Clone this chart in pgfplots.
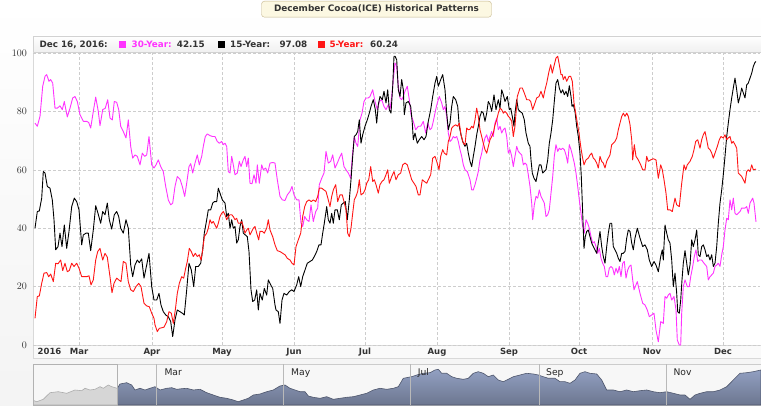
\documentclass[border=0pt]{standalone}
\usepackage{pgfplots}
\pgfplotsset{compat=1.18}
\usepackage{fontspec}
\setmainfont{DejaVu Sans}
\definecolor{mag}{RGB}{255,51,255}
\definecolor{redl}{RGB}{255,22,22}
\definecolor{txt}{RGB}{51,51,51}
\definecolor{gridc}{RGB}{205,205,205}
\definecolor{navtop}{RGB}{146,160,194}
\definecolor{navbot}{RGB}{108,118,143}
\definecolor{navline}{RGB}{78,86,108}
\definecolor{titlefill}{RGB}{252,248,226}
\definecolor{titledraw}{RGB}{196,181,139}

\begin{document}
\begin{tikzpicture}[x=1pt,y=1pt]
\path[use as bounding box] (0,0) rectangle (761,405);
% page background
\shade[top color=white, bottom color=gray!9] (0,0) rectangle (761,405);
% title
\node[draw=titledraw, fill=titlefill, rounded corners=3pt, minimum width=230pt, minimum height=16pt,
      inner sep=0pt, text=txt, font=\bfseries\fontsize{8.9}{10}\selectfont] at (376.5,395.8)
      {December Cocoa(ICE) Historical Patterns};
% plot box and header band
\fill[white] (33,60) rectangle (761,353);
\shade[top color=white, bottom color=gray!12, draw=gray!35] (33,353) rectangle (761,369);
\draw[gray!30] (33,60) -- (33,353);
% x label band
\fill[gray!4, draw=gray!30] (33,47) rectangle (761,60);
% navigator box
\fill[gray!6, draw=gray!40] (33,0) rectangle (761,41);

% header texts
\begin{scope}[every node/.style={anchor=base west, inner sep=0pt, font=\bfseries\fontsize{8.8}{10}\selectfont}]
\node[text=txt] at (39.3,357.4) {Dec 16, 2016:};
\fill[mag] (119.3,357.4) rectangle ++(6.3,6.3);
\node[text=mag] at (131.5,357.4) {30-Year:};
\node[text=txt] at (176.7,357.4) {42.15};
\fill[black] (218.3,357.4) rectangle ++(6.3,6.3);
\node[text=txt] at (230,357.4) {15-Year:};
\node[text=txt] at (279.3,357.4) {97.08};
\fill[redl] (318.3,357.4) rectangle ++(6.3,6.3);
\node[text=redl] at (329.3,357.4) {5-Year:};
\node[text=txt] at (370,357.4) {60.24};
\end{scope}

\begin{axis}[at={(33pt,60pt)}, anchor=south west, scale only axis,
  width=727pt, height=292pt,
  xmin=33, xmax=760, ymin=0, ymax=100,
  axis line style={draw=none}, major tick length=0pt,
  xtick={79,152,222,294,365,437,509,579,652,723},
  xticklabels={Mar,Apr,May,Jun,Jul,Aug,Sep,Oct,Nov,Dec},
  extra x ticks={49.5}, extra x tick labels={2016},
  extra x tick style={grid=none},
  ytick={0,20,40,60,80,100},
  grid=major,
  major grid style={gridc, dash pattern=on 3pt off 2pt, line width=0.6pt},
  xticklabel style={anchor=base, inner sep=0pt, yshift=-9.7pt, text=txt,
                    font=\bfseries\fontsize{8.5}{10}\selectfont},
  yticklabel style={anchor=east, inner sep=0pt, xshift=-6pt, text=txt,
                    font=\fontsize{10}{11}\selectfont},
  every axis plot/.append style={line width=0.9pt, line join=round, mark=none},
]
% 30-Year
\addplot[mag] coordinates {
(35,76.0)(37.3,74.9)(40,78.3)(42.7,88.6)(45,92.0)(46.7,92.6)(49,90.3)(50.7,90.9)(52.7,89.7)(55,81.1)
(57.3,81.1)(60,81.9)(62.3,80.6)(64.3,83.4)(67.3,78.1)(70,81.1)(72.7,84.6)(75,85.1)(77.3,83.4)(80,78.9)
(83.3,76.6)(86.7,76.6)(88.7,76.2)(90.7,74.3)(93.3,80.0)(95.7,84.9)(98.3,80.0)(100,75.1)(102.7,80.6)(105.3,81.1)
(107.7,84.0)(110,77.7)(112.3,77.1)(114.3,83.4)(116.7,83.1)(118.7,80.6)(120.7,74.9)(123.3,73.1)(126,70.9)(128.3,77.1)
(130.7,68.0)(132.7,64.0)(135,65.1)(137.3,64.6)(140,61.7)(142.3,65.7)(144.7,64.6)(146.7,65.1)(149,71.4)(151.7,61.7)
(154,60.6)(156,61.7)(158.3,63.4)(160.7,61.1)(163.3,59.4)(165.7,54.3)(168.3,49.7)(170.7,48.0)(172.7,48.6)(175,54.3)
(177.3,57.7)(180,56.8)(182.3,54.3)(184.7,50.9)(186.7,55.4)(189,61.1)(190.7,62.1)(192.7,58.9)(195,62.3)(197.3,65.1)
(199.3,61.7)(201.7,64.6)(203.3,68.0)(205.3,71.4)(207.3,72.3)(210,71.7)(212.7,71.4)(215,71.4)(217.3,69.7)(219.3,69.1)
(221.7,69.7)(223.3,68.6)(225,69.1)(226.7,68.0)(228.3,59.4)(230,58.9)(231.7,64.6)(233.3,61.7)(235,58.3)(237.3,58.9)
(239.3,62.9)(241,61.1)(243.3,63.4)(245,64.6)(246.7,61.1)(248.3,64.0)(250,55.4)(252,55.2)(254,58.3)(256,55.4)
(257.3,61.7)(259.3,55.4)(261.7,61.7)(263.3,60.0)(265.7,60.6)(267.7,58.9)(270,62.3)(272.7,62.5)(275,62.3)(277.3,56.6)
(280,50.9)(282.3,49.7)(285,49.5)(287.3,51.4)(290,52.6)(292,54.3)(294,51.4)(296.7,49.7)(299,49.7)(301,41.7)
(302.7,40.6)(304.7,44.0)(306.7,42.9)(309,42.3)(311,48.0)(313.3,42.3)(315.7,45.7)(317.7,46.9)(319.3,54.9)(321.7,57.1)
(324,58.9)(326,66.3)(328.3,62.3)(330.7,62.9)(332.7,65.1)(335,60.6)(337.3,62.3)(339.3,64.0)(341.7,65.7)(344,61.1)
(346,60.0)(348.3,58.9)(350.7,57.1)(352.3,64.6)(354.3,71.4)(356,69.1)(357.7,68.0)(360,77.1)(362,79.4)(364,83.4)
(366,84.6)(368.3,84.6)(370,85.1)(372.7,87.4)(375,83.4)(377.3,80.6)(379.3,83.4)(381.7,84.0)(384,81.7)(386,80.6)
(388.3,82.3)(390,80.6)(391.7,85.1)(393.3,90.9)(395,96.6)(396.7,95.4)(398.3,88.6)(400,84.6)(401.7,84.0)(403.3,85.1)
(405,86.9)(407.3,88.6)(409.3,84.0)(411,78.9)(413.3,76.6)(415.7,73.7)(418.3,74.9)(420.7,74.9)(423.3,76.6)(425.7,72.6)
(427.7,76.0)(430,73.7)(431.7,74.3)(433.3,76.6)(435.7,80.6)(437.3,82.9)(439.3,85.1)(441.7,82.9)(443.3,80.6)(445,81.7)
(446.7,78.3)(448.3,72.6)(450,69.7)(451.7,70.3)(453.3,71.4)(455,70.9)(456.7,71.4)(458.3,69.7)(460,66.9)(461.7,64.6)
(463.3,61.7)(465,60.0)(467.3,59.4)(470,56.6)(471.7,53.1)(473.3,53.1)(475,54.9)(476.7,57.1)(478.3,59.4)(480,63.4)
(481.7,65.7)(483.3,68.6)(485,70.9)(486.7,72.0)(488.3,69.7)(490,71.4)(491.7,73.1)(493.3,71.4)(495,76.0)(496.7,77.7)
(498.3,73.7)(500,74.9)(501.7,72.6)(503.3,73.7)(505,74.3)(506.7,71.4)(508.3,65.7)(510,66.9)(511.7,64.6)(513.3,61.1)
(515,64.6)(516.7,68.0)(518.3,66.3)(520,65.7)(521.7,65.1)(523.3,61.7)(525,62.3)(526.7,61.7)(528.3,58.3)(530,54.3)
(531.7,48.6)(532.7,42.9)(534.3,48.0)(536,50.9)(537.7,50.3)(539.3,53.1)(541,50.9)(542.7,49.7)(544.3,48.6)(546,44.0)
(547.7,44.6)(549.3,46.3)(551,52.0)(552.7,57.7)(554.3,64.6)(556,68.6)(557.7,66.3)(559.3,67.4)(561,66.9)(562.7,67.4)
(564.3,66.9)(566,65.1)(567.7,62.3)(569.3,68.6)(571,66.9)(572.7,64.6)(574.3,62.3)(576,58.9)(577.7,54.3)(579.3,49.7)
(581,45.1)(582.7,40.6)(584.3,38.3)(586,42.9)(587.7,41.7)(589.3,40.0)(591,37.1)(592.7,34.9)(594.3,35.4)(596,33.7)
(597.7,31.4)(599.3,33.1)(601,29.7)(602.7,28.0)(604.3,26.9)(606,23.4)(607.7,23.4)(609.3,26.3)(611,26.9)(612.7,26.3)
(614.3,24.0)(616,26.3)(617.7,24.6)(619.3,26.9)(621,23.4)(622.7,28.0)(624.3,28.6)(626,22.9)(627.7,25.7)(629.3,26.9)
(631,27.4)(632.7,22.3)(634,18.9)(637.3,21.7)(640,17.7)(642.7,14.3)(645,13.7)(647.3,12.0)(649.3,9.7)(651.7,10.3)
(654,10.9)(656,5.1)(658.3,1.1)(660.7,8.0)(663.3,7.4)(665,16.6)(666.7,16.0)(668.3,17.1)(670,17.7)(671.7,15.4)
(674,16.6)(676,12.0)(677.3,1.7)(679.3,0)(680.7,0)(681.7,10.9)(683.3,20.0)(685,22.3)(687.3,20.0)(689.3,20.0)
(690.7,23.4)(692.7,26.9)(694.3,30.3)(696,32.6)(697.7,28.6)(699.3,29.1)(701.7,29.1)(704,28.0)(706.7,26.9)(708.3,22.3)
(710,23.4)(711.7,24.0)(713.3,24.6)(715,26.9)(716.7,27.4)(718.3,28.0)(720,26.9)(721.7,30.9)(723.3,33.7)(725,39.4)
(726.7,43.4)(728.3,42.9)(730,49.7)(731.7,46.3)(733.3,50.3)(735,45.1)(736.7,44.6)(738.3,45.1)(740,45.7)(741.7,46.9)
(743.3,46.9)(745,46.9)(746.7,47.4)(748.3,45.1)(750,48.6)(752.7,50.3)(754,48.6)(756,42.15)
};
% 15-Year
\addplot[black] coordinates {
(35,40.0)(37.3,45.7)(39.3,45.9)(41.7,50.3)(43.3,59.4)(45,58.9)(47.3,54.3)(50,53.7)(52.3,49.7)(54,42.9)
(55.7,32.6)(58,33.7)(60,38.3)(62,33.7)(64.3,41.1)(66.7,33.1)(69,38.9)(71.7,47.4)(74.3,50.3)(76.7,49.1)
(79,46.3)(81.7,34.3)(83.3,37.7)(86,38.3)(88.3,38.3)(90.7,32.3)(93.3,39.4)(95.7,47.7)(98,45.1)(100.7,41.7)
(102.7,45.7)(105,44.6)(107.3,48.6)(109.3,42.9)(111.7,39.7)(114.3,44.6)(116.7,45.7)(118.7,44.0)(120.7,40.0)(123.3,38.3)
(126,42.9)(128.3,40.0)(130.7,27.4)(132.7,23.4)(135,27.4)(137.3,29.1)(139.3,28.2)(141.7,29.5)(144,22.9)(146.7,27.4)
(149,31.4)(151.7,20.0)(154,15.4)(156.7,15.4)(159,17.7)(161,13.7)(163.3,11.4)(165.7,10.3)(168.3,9.7)(170.7,8.0)
(172.7,2.9)(175,8.6)(177.3,12.0)(180,11.4)(182.3,10.9)(184.3,10.3)(186.7,18.9)(189,28.0)(191.3,25.7)(193.7,20.0)
(195.7,26.9)(198.3,26.9)(200.7,28.0)(202.7,32.6)(204.3,38.3)(206.7,42.9)(208.3,46.3)(210.7,46.3)(212.7,48.6)(214.3,49.1)
(216.7,49.1)(218.3,53.7)(220,52.0)(222.3,49.7)(225,48.6)(226.7,44.0)(228.3,45.1)(230,40.0)(231.7,42.9)(233.3,40.0)
(235,40.6)(236.7,34.9)(238.3,36.0)(240,40.6)(241.7,42.9)(243.3,38.3)(245.3,37.7)(247.3,37.1)(249,32.0)(251,18.9)
(252.7,14.9)(254.7,15.4)(256.7,18.9)(258.3,12.0)(260,17.7)(262.3,15.4)(264.3,19.4)(266.7,17.1)(268.3,22.3)(270.7,20.6)
(272.7,19.4)(275,13.7)(276,12.0)(278.3,11.4)(280,7.4)(282,15.4)(284,17.7)(286.7,17.1)(289.3,18.3)(291.7,18.9)
(294,18.3)(296.7,20.6)(298.7,23.4)(300.7,20.0)(302.7,23.4)(305,25.7)(307.3,28.0)(310,28.6)(312.3,29.1)(314.3,30.3)
(316.7,32.0)(319,34.3)(321,34.3)(322.7,38.3)(324.3,41.7)(326.7,47.4)(328.3,42.9)(330,41.7)(331.7,45.1)(333.3,41.7)
(335,46.3)(337.3,46.3)(339.3,42.9)(341.3,48.0)(343.3,48.6)(345.3,49.1)(347.3,42.9)(349.3,49.7)(351,56.6)(352.7,64.6)
(354.3,71.4)(356,72.0)(357.7,73.1)(359.3,77.1)(361,69.1)(362.7,72.0)(365,74.9)(367.3,77.1)(369.3,79.4)(371,81.7)
(373.3,84.0)(375.3,80.6)(376.7,76.0)(378.3,82.3)(380,85.1)(382.3,84.0)(384,86.9)(386,82.9)(387.7,87.4)(389.3,80.6)
(391,79.4)(392.7,88.6)(394,98.9)(395,98.9)(396.7,97.7)(398.3,87.4)(400,85.1)(401.7,90.9)(403.3,87.4)(404.3,78.9)
(406,82.9)(408.3,83.4)(410.7,81.7)(412.3,76.0)(413.3,70.3)(415,72.6)(417.3,69.1)(419.3,70.3)(421.7,71.4)(424,70.3)
(426,71.4)(428.3,76.6)(430.7,80.6)(432.7,85.1)(435,89.7)(436.7,92.0)(438.3,88.6)(440.7,90.9)(442.7,92.6)(445,87.4)
(446.7,79.4)(448.3,73.7)(450,76.0)(451.7,81.7)(453.3,85.1)(455.7,84.0)(457.7,81.7)(459.3,74.9)(461,72.0)(462.7,69.7)
(465,68.0)(466.7,69.1)(468.3,65.7)(470,62.9)(471.7,61.1)(473.3,64.6)(475,68.0)(476.7,72.0)(478.3,74.9)(480,78.3)
(481.7,80.0)(483.3,79.4)(485,76.6)(486.7,79.4)(488.3,83.4)(490,82.3)(491.7,80.0)(494,85.7)(496,80.6)(498.3,84.0)
(500,81.1)(501.7,87.4)(503.3,85.7)(505,83.4)(507.3,85.1)(509.3,80.6)(510.7,81.1)(512.3,78.3)(514,74.9)(515,79.4)
(516.7,84.0)(518.3,80.6)(520,80.0)(522.3,79.4)(524.3,77.1)(526,72.6)(528.3,69.1)(530,68.0)(531,63.4)(532.3,58.9)
(534,57.1)(536,56.0)(537.7,58.9)(539.3,61.7)(541,61.7)(542.7,58.9)(544.3,59.4)(546,60.0)(547.7,63.4)(549.3,69.1)
(551,72.6)(552.7,77.1)(554.3,83.4)(556,89.7)(557.7,90.9)(559.3,88.0)(561,86.3)(562.7,87.4)(564.3,85.7)(566,86.9)
(567.7,85.1)(569.3,88.8)(571,85.1)(572,81.7)(573.3,82.3)(575,80.0)(576.7,74.9)(578.3,71.4)(580,65.7)(581.3,57.7)
(582.7,45.1)(584,33.1)(585.3,37.1)(586.7,38.9)(588.3,39.4)(590,37.1)(591.7,34.9)(593.3,33.7)(595,32.6)(596.7,31.4)
(598.3,34.9)(600,38.9)(601.7,33.7)(603.3,30.3)(605,28.0)(606.7,33.7)(608.3,38.3)(610,41.7)(611.7,41.7)(613.3,33.7)
(615,32.6)(616.7,31.4)(618.3,29.7)(620,28.6)(621.7,31.4)(623.3,31.4)(625,32.0)(626.7,36.6)(628.3,39.4)(630,38.9)
(631.7,34.9)(633.3,32.6)(635,36.6)(637.3,40.0)(640,36.6)(642.7,33.7)(645,34.3)(647.3,32.6)(649.3,29.1)(651.7,26.9)
(654,28.6)(656,27.4)(658.3,25.1)(660.7,30.3)(662.3,32.6)(663.3,29.1)(665,41.1)(666.7,38.3)(668.3,36.0)(670,34.9)
(671.7,29.1)(673.3,20.0)(675,24.6)(676.7,17.7)(677.7,11.4)(679.3,10.9)(680.7,15.4)(682,22.3)(683.3,28.0)(685,32.3)
(686.7,28.0)(688.3,24.0)(690,27.4)(691.7,36.0)(693.3,33.7)(695,36.0)(696.7,39.4)(698.3,30.9)(700,30.3)(701.7,33.7)
(703.3,34.3)(705,32.6)(706.7,30.3)(708.3,30.9)(710,29.1)(711.7,30.9)(713.3,26.9)(715,28.0)(716.7,33.7)(718.3,41.7)
(720,48.6)(721.7,53.1)(723.3,58.3)(725,64.6)(726.7,71.4)(728.3,76.0)(730,80.6)(731.7,84.6)(733.3,88.0)(735,91.4)
(736.7,87.4)(738.3,82.9)(740,85.1)(741.7,88.0)(743.3,86.3)(745,84.6)(746.7,89.1)(748.3,89.7)(750,91.4)(751.7,93.1)
(753.3,95.4)(755,96.8)(756,97.08)
};
% 5-Year
\addplot[redl] coordinates {
(35,9.1)(37.3,16.6)(39.3,16.8)(41.7,21.1)(44,24.6)(46.7,24.8)(48.7,23.4)(50.7,24.3)(53.3,21.7)(55.7,28.0)
(58,27.8)(60.7,29.1)(62.7,25.5)(65,28.0)(67.3,25.1)(69.3,25.5)(71.7,28.0)(74,26.9)(76.7,28.0)(79,26.3)
(81.7,23.4)(84.3,23.4)(86.7,23.4)(89,23.7)(91,20.6)(93.3,22.3)(95.7,29.1)(97.7,32.0)(100,33.1)(102.7,29.1)
(105,31.4)(107.3,30.1)(110,23.4)(112,17.9)(114,21.1)(116.7,22.9)(118.7,22.3)(121,21.7)(123.3,28.6)(126,28.0)
(128.3,21.7)(130.7,18.9)(133.3,18.3)(136,20.0)(138.7,21.1)(141,20.0)(144,14.3)(146.7,13.4)(149.3,13.1)(151.7,10.9)
(154,9.1)(155,6.9)(157.3,4.6)(159.3,5.7)(161.7,5.9)(164,6.1)(166.7,8.0)(169,11.4)(171.3,10.9)(173.3,7.4)
(175.3,12.0)(177.3,17.7)(179.3,21.1)(181.7,23.4)(183.7,22.9)(185.7,26.3)(187.3,28.6)(189.3,33.1)(191.3,32.0)(193.3,30.3)
(195.3,31.4)(197.3,30.3)(199.3,30.9)(201,29.1)(202.7,32.6)(204.3,37.1)(206.7,38.3)(208.3,40.0)(210,42.9)(211.7,41.7)
(213.3,42.3)(215,41.1)(216.7,40.0)(218.3,41.7)(220,44.0)(221.7,45.1)(223.3,45.7)(225,44.6)(226.7,42.9)(228.3,44.0)
(230,44.6)(231.7,44.6)(233.3,44.0)(235,42.9)(236.7,43.4)(238.3,41.7)(240,41.7)(241.7,42.3)(243.3,40.6)(245,38.3)
(246.7,39.4)(248.3,40.0)(250,37.7)(251.7,38.9)(253.3,40.0)(255,40.6)(256.7,38.3)(258.7,36.0)(260,38.9)(262.3,38.9)
(264.3,38.3)(266.7,40.0)(268.3,42.9)(270,39.4)(272.7,37.1)(275,34.3)(277.3,32.3)(280,32.0)(282.7,31.4)(285,30.9)
(287.3,29.7)(290,29.1)(292,28.0)(294,27.4)(296,33.7)(298.3,36.0)(300.7,38.3)(302.7,44.0)(304.7,47.4)(306.7,49.1)
(309,49.7)(311.3,49.1)(313.3,49.7)(315.7,49.1)(317.7,50.9)(319.3,53.7)(321.7,53.7)(324,53.1)(326,52.6)(328.3,49.7)
(330,47.4)(331.7,50.9)(333.3,53.1)(335.7,54.9)(337.7,49.1)(340,51.4)(342.3,51.4)(344,49.1)(346,46.3)(347.7,38.3)
(349.3,37.1)(351,40.0)(352.7,45.1)(354.3,49.7)(356,50.9)(357.7,52.6)(359.3,56.6)(361,51.4)(363.3,52.0)(365,53.1)
(366.7,55.4)(368.7,56.6)(370.7,61.1)(372.7,56.0)(374.3,56.6)(376,54.9)(378.3,52.0)(380,54.9)(382,56.0)(384,56.6)
(386,58.3)(387.7,60.0)(389.3,55.4)(391.7,57.7)(394,59.4)(396,56.6)(398.3,58.3)(400.7,58.9)(402.7,61.7)(405,62.3)
(407.3,61.7)(409.3,59.4)(411.7,56.6)(414,55.4)(416,54.3)(418.3,51.4)(420,51.4)(422.3,56.6)(424.3,56.0)(426.7,55.4)
(428.3,56.6)(430.7,58.3)(432.7,64.0)(435,64.6)(436.7,62.9)(439,60.0)(440.7,64.6)(442.7,66.9)(444.3,65.7)(446.7,65.1)
(448.3,69.7)(450,71.4)(451.7,74.3)(453.3,74.9)(455.7,75.4)(457.7,74.9)(459.3,76.0)(461,72.0)(463.3,69.1)(465,68.6)
(466.7,74.3)(468.3,73.7)(470,73.9)(471.7,74.9)(473.3,74.3)(475,77.1)(476.7,81.1)(478.3,78.3)(480,73.7)(481.7,71.4)
(483.3,69.1)(485,66.9)(486.7,65.7)(488.3,68.0)(490,70.3)(491.7,71.4)(493.3,72.6)(495,75.4)(496.7,77.1)(498.3,79.4)
(500,81.1)(501.7,80.6)(503.3,79.4)(505,80.0)(506.7,79.4)(508.3,78.3)(510,77.7)(511.7,76.6)(513.3,71.4)(515,75.0)
(517.3,85.1)(520,88.0)(522.3,88.0)(524.3,86.3)(526.7,84.0)(529,84.0)(530.7,83.4)(532.7,80.6)(535,82.9)(536.7,84.6)
(539,85.1)(541,86.9)(543.3,84.6)(545,87.4)(546.7,89.7)(549,93.7)(550.7,96.0)(552.3,93.1)(554.3,96.0)(556,98.3)
(557.7,98.9)(559.3,96.0)(561,92.6)(562.3,92.6)(563.3,90.9)(565,92.0)(566.7,90.3)(569,92.0)(570.7,92.0)(572.3,90.3)
(574,82.9)(575.7,79.4)(577.3,76.0)(579,72.6)(580.7,68.0)(582.3,64.6)(584,61.7)(586,63.4)(588.3,64.0)(590,65.1)
(591.7,65.7)(593.3,64.0)(595,63.4)(596.7,62.3)(598.3,60.6)(600,64.6)(601.7,62.9)(603.3,62.3)(605,60.6)(606.7,62.9)
(608.3,64.0)(610,65.1)(611.7,68.6)(613.3,69.1)(615,69.7)(616.7,70.9)(618.3,73.7)(620,76.0)(621.7,78.3)(623.3,79.4)
(625,78.3)(626.7,79.4)(628.3,78.3)(630,75.5)(631.7,70.3)(632.7,63.4)(634.3,68.6)(636,64.6)(638.3,63.4)(640.7,61.7)
(642.7,60.0)(645,60.0)(646.7,64.6)(648.3,62.9)(650.7,63.4)(653.3,63.8)(656,63.4)(658.3,57.1)(660.7,61.7)(662.3,60.0)
(664,56.6)(666,52.0)(667.7,46.3)(670,46.3)(672.3,45.7)(675,50.3)(676.7,48.0)(679.3,47.4)(681.7,55.4)(684,61.7)
(685.7,60.0)(687.3,61.7)(690,62.9)(692.3,64.6)(694,66.9)(695.7,69.7)(697.7,70.3)(700,67.4)(701.7,70.3)(703.3,72.0)
(705,73.1)(706.7,70.3)(708.3,67.4)(710,66.9)(711.7,65.7)(713.3,64.0)(715,65.7)(717.3,68.0)(719.3,70.3)(721,71.4)
(723.3,70.9)(725,72.0)(726.7,70.3)(728.3,70.9)(730,71.4)(731.7,69.1)(733.3,69.7)(735,68.6)(736.7,67.4)(738.3,58.9)
(740,58.3)(741.7,57.7)(743.3,56.6)(745,55.4)(746.7,59.4)(748.3,60.0)(750,59.4)(751.7,61.7)(753.3,60.0)(756,60.24)
};
\end{axis}

% navigator
\begin{axis}[at={(33pt,0pt)}, anchor=south west, scale only axis,
  width=728pt, height=41pt, xmin=33, xmax=761, ymin=0, ymax=41,
  hide axis, clip=true]
\addplot[draw=gray!65, fill=gray!32, line width=0.6pt] coordinates {
(32.3,5)(36.7,3.3)(43.3,5.7)(50,12.3)(58.3,13.3)(66.7,11.7)(75,15)(81.7,14.3)(85,16.7)(90,15)
(95,15.7)(100,18.3)(103.3,16.7)(108.3,20)(111.7,18.3)(117.3,16.7)
} \closedcycle;
\addplot[draw=navline, top color=navtop, bottom color=navbot, line width=0.6pt] coordinates {
(117.3,16.7)(120,21)(126.7,22.3)(131.7,20)(135,15)(140,16.7)(145,15)(150,16.7)(155,18.3)(160,15)
(166.7,16.7)(171.7,17.3)(176.7,15.7)(181.7,16.3)(186.7,16.7)(193.3,15)(200,15.7)(206.7,12.3)(213.3,10)(220,7.7)
(226.7,6.7)(233.3,5)(238.3,3.3)(243.3,5)(248.3,6.7)(253.3,10)(260,11)(266.7,13.3)(273.3,15)(280,19)
(285,20)(290,16.7)(295,15)(300,13.3)(305,13.3)(308.3,9)(313.3,7.7)(320,6.7)(326.7,8.3)(333.3,5.7)
(340,6.7)(346.7,7.7)(353.3,8.3)(360,10)(366.7,11.7)(373.3,15)(380,16.7)(386.7,15.7)(393.3,16.7)(398.3,18.3)
(403.3,26.7)(408.3,27.7)(411.7,28.3)(416.7,30)(423.3,31.7)(430,32.3)(435,35)(438.3,35.7)(441.7,31.7)(446.7,31.7)
(451.7,28.3)(456.7,26.7)(463.3,25.7)(468.3,26.7)(473.3,31.7)(478.3,33.3)(483.3,31.7)(488.3,28.3)(493.3,30)(498.3,25)
(503.3,23.3)(508.3,25.7)(513.3,28.3)(520,30)(526.7,31.7)(533.3,31)(538.3,30)(543.3,28.3)(548.3,26.7)(555,26.7)
(560,23.3)(565,23.3)(570,21.7)(575,25)(580,31.7)(585,33.3)(590,31.7)(596.7,31)(601.7,25)(606.7,15)
(613.3,15)(620,13.3)(626.7,15)(633.3,13.3)(640,14.3)(646.7,15)(653.3,13.3)(660,12.3)(666.7,13.3)(673.3,11.7)
(680,10)(685,10)(690,5.7)(695,10)(700,11.7)(706.7,13.3)(713.3,13.3)(720,15)(726.7,18.3)(733.3,25)
(740,31.7)(746.7,32.3)(753.3,33.3)(761,35)
} \closedcycle;
\draw[gray!55, line width=0.6pt] (axis cs:156.7,0) -- (axis cs:156.7,41);
\draw[gray!55, line width=0.6pt] (axis cs:283.3,0) -- (axis cs:283.3,41);
\draw[gray!55, line width=0.6pt] (axis cs:410.7,0) -- (axis cs:410.7,41);
\draw[gray!55, line width=0.6pt] (axis cs:539.3,0) -- (axis cs:539.3,41);
\draw[gray!55, line width=0.6pt] (axis cs:666.7,0) -- (axis cs:666.7,41);
\end{axis}
\draw[gray!60, line width=0.6pt] (33,0) rectangle (117.3,41);
\begin{scope}[every node/.style={anchor=base west, inner sep=0pt, font=\fontsize{9.2}{10}\selectfont, text=black!85}]
\node at (164.3,29.3) {Mar};
\node at (291,29.3) {May};
\node at (417.7,29.3) {Jul};
\node at (546,29.3) {Sep};
\node at (673.3,29.3) {Nov};
\end{scope}
\end{tikzpicture}
\end{document}
